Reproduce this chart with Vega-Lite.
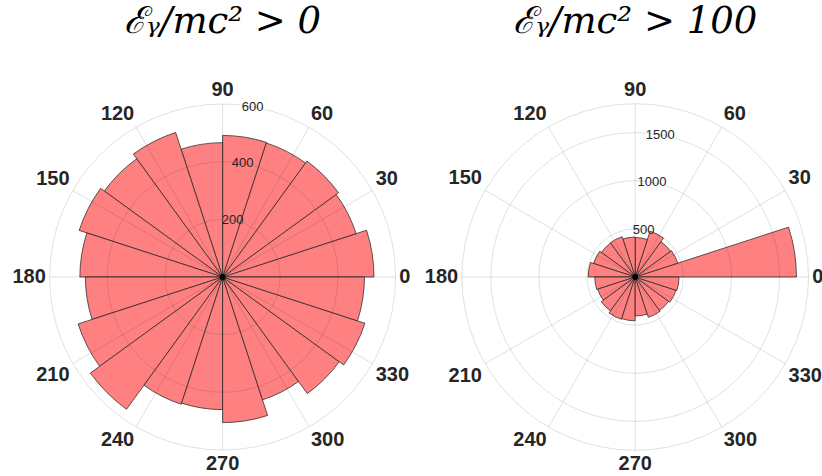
{
  "$schema": "https://vega.github.io/schema/vega-lite/v6.json",
  "background": "white",
  "padding": {"left": 11.6, "top": 3, "right": 0, "bottom": 0},
  "autosize": {"type": "pad"},
  "bounds": "flush",
  "spacing": 12.6,
  "config": {"view": {"stroke": null}},
  "datasets": {
    "low": [
      {"start": 0, "end": 18, "count": 525},
      {"start": 18, "end": 36, "count": 487},
      {"start": 36, "end": 54, "count": 497},
      {"start": 54, "end": 72, "count": 489},
      {"start": 72, "end": 90, "count": 491},
      {"start": 90, "end": 108, "count": 466},
      {"start": 108, "end": 126, "count": 527},
      {"start": 126, "end": 144, "count": 507},
      {"start": 144, "end": 162, "count": 523},
      {"start": 162, "end": 180, "count": 495},
      {"start": 180, "end": 198, "count": 476},
      {"start": 198, "end": 216, "count": 527},
      {"start": 216, "end": 234, "count": 567},
      {"start": 234, "end": 252, "count": 464},
      {"start": 252, "end": 270, "count": 460},
      {"start": 270, "end": 288, "count": 505},
      {"start": 288, "end": 306, "count": 448},
      {"start": 306, "end": 324, "count": 500},
      {"start": 324, "end": 342, "count": 519},
      {"start": 342, "end": 360, "count": 492}
    ],
    "high": [
      {"start": 0, "end": 18, "count": 1675},
      {"start": 18, "end": 36, "count": 465},
      {"start": 36, "end": 54, "count": 455},
      {"start": 54, "end": 72, "count": 500},
      {"start": 72, "end": 90, "count": 410},
      {"start": 90, "end": 108, "count": 415},
      {"start": 108, "end": 126, "count": 440},
      {"start": 126, "end": 144, "count": 435},
      {"start": 144, "end": 162, "count": 455},
      {"start": 162, "end": 180, "count": 488},
      {"start": 180, "end": 198, "count": 420},
      {"start": 198, "end": 216, "count": 410},
      {"start": 216, "end": 234, "count": 436},
      {"start": 234, "end": 252, "count": 462},
      {"start": 252, "end": 270, "count": 455},
      {"start": 270, "end": 288, "count": 405},
      {"start": 288, "end": 306, "count": 440},
      {"start": 306, "end": 324, "count": 430},
      {"start": 324, "end": 342, "count": 445},
      {"start": 342, "end": 360, "count": 455}
    ],
    "ringsLow": [
      {"r": 200, "label": "200"},
      {"r": 400, "label": "400"},
      {"r": 600, "label": "600"}
    ],
    "ringsHigh": [
      {"r": 500, "label": "500"},
      {"r": 1000, "label": "1000"},
      {"r": 1500, "label": "1500"},
      {"r": 1800, "label": ""}
    ],
    "angles": [
      {"a": 0}, {"a": 30}, {"a": 60}, {"a": 90}, {"a": 120}, {"a": 150},
      {"a": 180}, {"a": 210}, {"a": 240}, {"a": 270}, {"a": 300}, {"a": 330}
    ],
    "hub": [{"origin": 0}]
  },
  "hconcat": [
    {
      "width": 400,
      "height": 400,
      "title": {
        "text": "ℰᵧ/mc² > 0",
        "font": "DejaVu Serif",
        "fontStyle": "italic",
        "fontWeight": "normal",
        "fontSize": 37,
        "color": "#000000",
        "baseline": "alphabetic",
        "anchor": "middle",
        "offset": 6.7
      },
      "layer": [
        {
          "data": {"name": "low"},
          "mark": {"type": "arc", "fill": "#FF8080", "stroke": "#262626", "strokeWidth": 0.75},
          "encoding": {
            "theta": {"field": "start", "type": "quantitative", "stack": null, "scale": {"domain": [0, 360], "range": [1.5707963267948966, -4.71238898038469]}},
            "theta2": {"field": "end"},
            "radius": {"field": "count", "type": "quantitative", "stack": null, "scale": {"type": "linear", "domain": [0, 600], "range": [0, 173]}}
          }
        },
        {
          "data": {"name": "ringsLow"},
          "mark": {"type": "arc", "filled": false, "stroke": "#262626", "strokeOpacity": 0.15, "strokeWidth": 1},
          "encoding": {
            "theta": {"datum": 0, "type": "quantitative"},
            "theta2": {"datum": 360},
            "radius": {"field": "r", "type": "quantitative", "stack": null}
          }
        },
        {
          "data": {"name": "angles"},
          "mark": {"type": "arc", "filled": false, "stroke": "#262626", "strokeOpacity": 0.08, "strokeWidth": 1},
          "encoding": {
            "theta": {"field": "a", "type": "quantitative", "stack": null},
            "theta2": {"field": "a"},
            "radius": {"datum": 600, "type": "quantitative"}
          }
        },
        {
          "data": {"name": "hub"},
          "mark": {"type": "arc", "fill": "#000000"},
          "encoding": {
            "theta": {"datum": 0, "type": "quantitative"},
            "theta2": {"datum": 360},
            "radius": {"datum": 10, "type": "quantitative"}
          }
        },
        {
          "data": {"name": "ringsLow"},
          "mark": {"type": "text", "font": "Liberation Sans", "fontSize": 13, "fill": "#262626", "align": "center", "baseline": "middle"},
          "encoding": {
            "theta": {"datum": 80, "type": "quantitative"},
            "radius": {"field": "r", "type": "quantitative", "stack": null},
            "text": {"field": "label"}
          }
        },
        {
          "data": {"name": "angles"},
          "mark": {
            "type": "text",
            "font": "Liberation Sans",
            "fontSize": 20,
            "fontWeight": "bold",
            "fill": "#262626",
            "align": {"expr": "datum.a == 90 || datum.a == 270 ? 'center' : (datum.a < 90 || datum.a > 270 ? 'left' : 'right')"},
            "baseline": {"expr": "datum.a == 0 || datum.a == 180 ? 'middle' : (datum.a < 180 ? 'bottom' : 'top')"}
          },
          "encoding": {
            "theta": {"field": "a", "type": "quantitative", "stack": null},
            "radius": {"datum": 613, "type": "quantitative"},
            "text": {"field": "a", "type": "nominal"}
          }
        }
      ]
    },
    {
      "width": 400,
      "height": 400,
      "title": {
        "text": "ℰᵧ/mc² > 100",
        "font": "DejaVu Serif",
        "fontStyle": "italic",
        "fontWeight": "normal",
        "fontSize": 37,
        "color": "#000000",
        "baseline": "alphabetic",
        "anchor": "middle",
        "offset": 6.7
      },
      "layer": [
        {
          "data": {"name": "high"},
          "mark": {"type": "arc", "fill": "#FF8080", "stroke": "#262626", "strokeWidth": 0.75},
          "encoding": {
            "theta": {"field": "start", "type": "quantitative", "stack": null, "scale": {"domain": [0, 360], "range": [1.5707963267948966, -4.71238898038469]}},
            "theta2": {"field": "end"},
            "radius": {"field": "count", "type": "quantitative", "stack": null, "scale": {"type": "linear", "domain": [0, 1800], "range": [0, 173.3]}}
          }
        },
        {
          "data": {"name": "ringsHigh"},
          "mark": {"type": "arc", "filled": false, "stroke": "#262626", "strokeOpacity": 0.15, "strokeWidth": 1},
          "encoding": {
            "theta": {"datum": 0, "type": "quantitative"},
            "theta2": {"datum": 360},
            "radius": {"field": "r", "type": "quantitative", "stack": null}
          }
        },
        {
          "data": {"name": "angles"},
          "mark": {"type": "arc", "filled": false, "stroke": "#262626", "strokeOpacity": 0.08, "strokeWidth": 1},
          "encoding": {
            "theta": {"field": "a", "type": "quantitative", "stack": null},
            "theta2": {"field": "a"},
            "radius": {"datum": 1800, "type": "quantitative"}
          }
        },
        {
          "data": {"name": "hub"},
          "mark": {"type": "arc", "fill": "#000000"},
          "encoding": {
            "theta": {"datum": 0, "type": "quantitative"},
            "theta2": {"datum": 360},
            "radius": {"datum": 30, "type": "quantitative"}
          }
        },
        {
          "data": {"name": "ringsHigh"},
          "mark": {"type": "text", "font": "Liberation Sans", "fontSize": 13, "fill": "#262626", "align": "center", "baseline": "middle"},
          "encoding": {
            "theta": {"datum": 80, "type": "quantitative"},
            "radius": {"field": "r", "type": "quantitative", "stack": null},
            "text": {"field": "label"}
          }
        },
        {
          "data": {"name": "angles"},
          "mark": {
            "type": "text",
            "font": "Liberation Sans",
            "fontSize": 20,
            "fontWeight": "bold",
            "fill": "#262626",
            "align": {"expr": "datum.a == 90 || datum.a == 270 ? 'center' : (datum.a < 90 || datum.a > 270 ? 'left' : 'right')"},
            "baseline": {"expr": "datum.a == 0 || datum.a == 180 ? 'middle' : (datum.a < 180 ? 'bottom' : 'top')"}
          },
          "encoding": {
            "theta": {"field": "a", "type": "quantitative", "stack": null},
            "radius": {"datum": 1839, "type": "quantitative"},
            "text": {"field": "a", "type": "nominal"}
          }
        }
      ]
    }
  ]
}
